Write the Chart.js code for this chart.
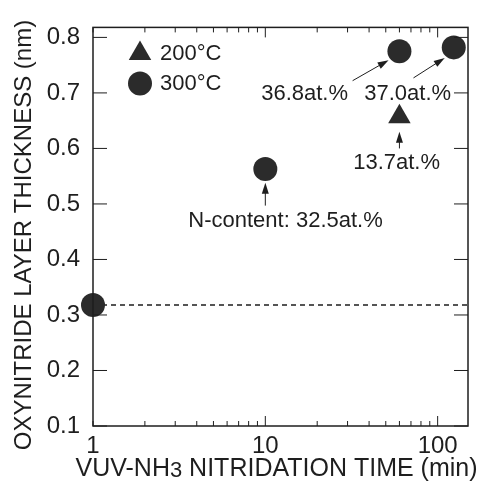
<!DOCTYPE html>
<html>
<head>
<meta charset="utf-8">
<script src="https://cdn.jsdelivr.net/npm/chart.js@4.4.1/dist/chart.umd.min.js"></script>
<style>
  html, body { margin: 0; padding: 0; background: #fff; }
  #wrap { width: 481px; height: 482px; }
</style>
</head>
<body>
<div id="wrap"><canvas id="oxyChart"></canvas></div>
<script>
// nitridation time (min) and oxynitride thickness (nm)
const times200 = [60];
const thick200 = [0.657];
const times300 = [1, 10, 60, 124];
const thick300 = [0.318, 0.563, 0.775, 0.782];
const initialThickness = 0.318;

const xTickValues = [1, 2, 3, 4, 5, 6, 7, 8, 9, 10, 20, 30, 40, 50, 60, 70, 80, 90, 100];
const xTickLabels = { 1: '1', 10: '10', 100: '100' };
const yTickValues = [0.1, 0.2, 0.3, 0.4, 0.5, 0.6, 0.7, 0.8];

const legendLabels = ['200°C', '300°C'];

// N-content notes: text anchor [x, y] and arrow [fromX, fromY, toX, toY]
const noteTexts = ['36.8at.%', '37.0at.%', '13.7at.%', 'N-content: 32.5at.%'];
const noteAnchors = [[16.9, 0.699], [67, 0.699], [57.8, 0.573], [13.1, 0.469]];
const noteArrows = [
    [32.1, 0.722, 51.9, 0.759],
    [72.4, 0.727, 109.9, 0.763],
    [60, 0.600, 60, 0.630],
    [10, 0.497, 10, 0.538]
];

const INK = '#1e1e1e';
const MARK = '#2b2b2b';

const frameAndNotes = {
    id: 'frameAndNotes',
    afterDatasetsDraw(chart) {
        const { ctx, chartArea: a, scales: { x, y } } = chart;
        ctx.save();

        // frame
        ctx.strokeStyle = INK;
        ctx.lineWidth = 1.5;
        ctx.strokeRect(a.left, a.top, a.right - a.left, a.bottom - a.top);

        // inward ticks
        ctx.lineWidth = 1;
        ctx.beginPath();
        yTickValues.forEach(v => {
            const py = y.getPixelForValue(v);
            ctx.moveTo(a.left, py); ctx.lineTo(a.left + 14, py);
            ctx.moveTo(a.right, py); ctx.lineTo(a.right - 14, py);
        });
        xTickValues.forEach(v => {
            const px = x.getPixelForValue(v);
            const len = (v === 10 || v === 100) ? 10 : 5;
            ctx.moveTo(px, a.bottom); ctx.lineTo(px, a.bottom - len);
            ctx.moveTo(px, a.top); ctx.lineTo(px, a.top + len);
        });
        ctx.stroke();

        // notes
        ctx.fillStyle = INK;
        ctx.font = '22px "Liberation Sans", Arial, sans-serif';
        ctx.textAlign = 'center';
        ctx.textBaseline = 'middle';
        noteTexts.forEach((t, i) => {
            const [vx, vy] = noteAnchors[i];
            ctx.fillText(t, x.getPixelForValue(vx), y.getPixelForValue(vy));
        });

        noteArrows.forEach(([x0, y0, x1, y1]) => {
            const px0 = x.getPixelForValue(x0), py0 = y.getPixelForValue(y0);
            const px1 = x.getPixelForValue(x1), py1 = y.getPixelForValue(y1);
            const ang = Math.atan2(py1 - py0, px1 - px0);
            ctx.strokeStyle = INK;
            ctx.lineWidth = 1;
            ctx.beginPath();
            ctx.moveTo(px0, py0);
            ctx.lineTo(px1 - Math.cos(ang) * 6, py1 - Math.sin(ang) * 6);
            ctx.stroke();
            ctx.beginPath();
            ctx.moveTo(px1, py1);
            ctx.lineTo(px1 - Math.cos(ang) * 11 + Math.sin(ang) * 3.5, py1 - Math.sin(ang) * 11 - Math.cos(ang) * 3.5);
            ctx.lineTo(px1 - Math.cos(ang) * 11 - Math.sin(ang) * 3.5, py1 - Math.sin(ang) * 11 + Math.cos(ang) * 3.5);
            ctx.closePath();
            ctx.fill();
        });

        // legend
        const styles = [chart.data.datasets[1], chart.data.datasets[2]];
        ctx.textAlign = 'left';
        legendLabels.forEach((t, i) => {
            const ly = a.top + 26 + i * 30;
            ctx.fillStyle = MARK;
            Chart.helpers.drawPoint(ctx, {
                pointStyle: styles[i].pointStyle,
                radius: i === 0 ? 13 : 12,
                borderWidth: 0,
                rotation: 0
            }, a.left + 47, ly);
            ctx.fillStyle = INK;
            ctx.fillText(t, a.left + 67, ly + 1);
        });

        // axis titles
        ctx.font = '25px "Liberation Sans", Arial, sans-serif';
        ctx.textBaseline = 'middle';
        const pre = 'VUV-NH', sub = '3', post = ' NITRIDATION TIME (min)';
        const wPre = ctx.measureText(pre).width;
        const wPost = ctx.measureText(post).width;
        ctx.font = '22px "Liberation Sans", Arial, sans-serif';
        const wSub = ctx.measureText(sub).width;
        let tx = (a.left + a.right) / 2 - 4 - (wPre + wSub + wPost) / 2;
        const ty = 469;
        ctx.font = '25px "Liberation Sans", Arial, sans-serif';
        ctx.fillText(pre, tx, ty);
        ctx.font = '22px "Liberation Sans", Arial, sans-serif';
        ctx.fillText(sub, tx + wPre, ty + 2);
        ctx.font = '25px "Liberation Sans", Arial, sans-serif';
        ctx.fillText(post, tx + wPre + wSub, ty);

        ctx.font = '24px "Liberation Sans", Arial, sans-serif';
        ctx.translate(24, 235);
        ctx.rotate(-Math.PI / 2);
        ctx.textAlign = 'center';
        ctx.fillText('OXYNITRIDE LAYER THICKNESS (nm)', 0, 0);

        ctx.restore();
    }
};

new Chart(document.getElementById('oxyChart'), {
    type: 'scatter',
    data: {
        datasets: [
            {
                type: 'line',
                label: 'initial',
                data: [{ x: 1, y: initialThickness }, { x: 150, y: initialThickness }],
                borderColor: INK,
                borderWidth: 1.6,
                borderDash: [5, 4],
                pointRadius: 0,
                order: 3
            },
            {
                label: legendLabels[0],
                data: times200.map((t, i) => ({ x: t, y: thick200[i] })),
                pointStyle: 'triangle',
                pointRadius: 13,
                backgroundColor: MARK,
                borderColor: MARK,
                borderWidth: 0,
                order: 1
            },
            {
                label: legendLabels[1],
                data: times300.map((t, i) => ({ x: t, y: thick300[i] })),
                pointStyle: 'circle',
                pointRadius: 12,
                backgroundColor: MARK,
                borderColor: MARK,
                borderWidth: 0,
                order: 2
            }
        ]
    },
    options: {
        responsive: true,
        maintainAspectRatio: false,
        animation: false,
        clip: false,
        layout: { padding: { left: 0, top: 19, right: 13, bottom: 0 } },
        plugins: {
            legend: { display: false },
            tooltip: { enabled: false }
        },
        scales: {
            x: {
                type: 'logarithmic',
                min: 1,
                max: 150,
                grid: { display: false, drawTicks: false },
                border: { display: false },
                afterBuildTicks: scale => {
                    scale.ticks = xTickValues.map(v => ({ value: v }));
                },
                afterFit: scale => { scale.height = 56; },
                ticks: {
                    autoSkip: false,
                    maxRotation: 0,
                    padding: 6,
                    color: INK,
                    font: { family: '"Liberation Sans", Arial, sans-serif', size: 24 },
                    callback: value => xTickLabels[value] || ''
                }
            },
            y: {
                min: 0.1,
                max: 0.818,
                grid: { display: false, drawTicks: false },
                border: { display: false },
                afterBuildTicks: scale => {
                    scale.ticks = yTickValues.map(v => ({ value: v }));
                },
                afterFit: scale => { scale.width = 93; },
                ticks: {
                    padding: 13,
                    color: INK,
                    font: { family: '"Liberation Sans", Arial, sans-serif', size: 24 },
                    callback: value => value.toFixed(1)
                }
            }
        }
    },
    plugins: [frameAndNotes]
});
</script>
</body>
</html>
